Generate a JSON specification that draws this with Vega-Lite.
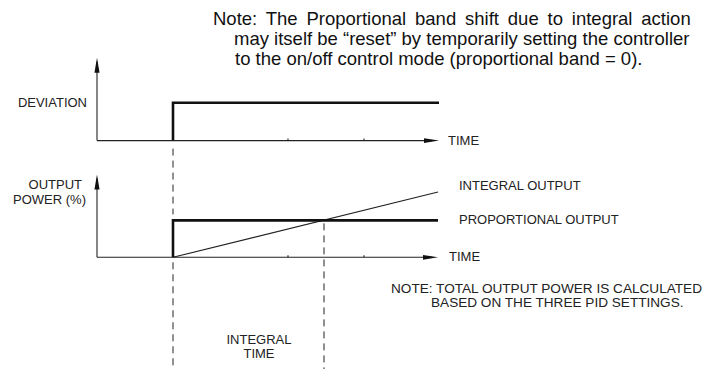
{
  "$schema": "https://vega.github.io/schema/vega-lite/v6.json",
  "width": 709,
  "height": 370,
  "padding": 0,
  "autosize": {"type": "fit", "contains": "padding"},
  "background": "white",
  "config": {"view": {"stroke": null}, "font": "Liberation Sans"},
  "data": {"values": [
    {"kind": "thin", "x": 97, "y": 62, "x2": 97, "y2": 141},
    {"kind": "thin", "x": 97, "y": 141, "x2": 432, "y2": 141},
    {"kind": "thin", "x": 97, "y": 179, "x2": 97, "y2": 258},
    {"kind": "thin", "x": 97, "y": 258, "x2": 432, "y2": 258},
    {"kind": "thin", "x": 173, "y": 258, "x2": 438, "y2": 192.5},
    {"kind": "thin", "x": 288, "y": 141, "x2": 288, "y2": 139},
    {"kind": "thin", "x": 364, "y": 141, "x2": 364, "y2": 139},
    {"kind": "thin", "x": 288, "y": 258, "x2": 288, "y2": 256},
    {"kind": "thin", "x": 364, "y": 258, "x2": 364, "y2": 256},
    {"kind": "dash", "x": 173, "y": 149, "x2": 173, "y2": 215},
    {"kind": "dash", "x": 173, "y": 263, "x2": 173, "y2": 370},
    {"kind": "dash", "x": 324, "y": 224, "x2": 324, "y2": 370},
    {"kind": "thick", "series": "deviation", "o": 1, "x": 173, "y": 141},
    {"kind": "thick", "series": "deviation", "o": 2, "x": 173, "y": 103},
    {"kind": "thick", "series": "deviation", "o": 3, "x": 439, "y": 103},
    {"kind": "thick", "series": "proportional", "o": 1, "x": 173, "y": 258},
    {"kind": "thick", "series": "proportional", "o": 2, "x": 173, "y": 221},
    {"kind": "thick", "series": "proportional", "o": 3, "x": 438, "y": 221},
    {"kind": "arrowup", "x": 97, "y": 58},
    {"kind": "arrowup", "x": 97, "y": 175},
    {"kind": "arrowright", "x": 439, "y": 141},
    {"kind": "arrowright", "x": 438, "y": 258},
    {"kind": "note", "x": 213, "y": 25, "text": "Note:\u2009 The\u2009 Proportional\u2009 band\u2009 shift\u2009 due\u2009 to\u2009 integral\u2009 action"},
    {"kind": "note", "x": 234, "y": 45, "text": "may itself be “reset” by temporarily setting the controller"},
    {"kind": "note", "x": 235, "y": 65, "text": "to the on/off control mode (proportional band = 0)."},
    {"kind": "left", "x": 448, "y": 141, "text": "TIME"},
    {"kind": "left", "x": 449, "y": 258, "text": "TIME"},
    {"kind": "left", "x": 459, "y": 187, "text": "INTEGRAL OUTPUT"},
    {"kind": "left", "x": 459, "y": 221, "text": "PROPORTIONAL OUTPUT"},
    {"kind": "small", "x": 391, "y": 289.5, "text": "NOTE: TOTAL OUTPUT POWER IS CALCULATED"},
    {"kind": "small", "x": 431, "y": 303.5, "text": "BASED ON THE THREE PID SETTINGS."},
    {"kind": "right", "x": 87, "y": 103, "text": "DEVIATION"},
    {"kind": "right", "x": 82, "y": 185, "text": "OUTPUT"},
    {"kind": "right", "x": 86, "y": 201, "text": "POWER (%)"},
    {"kind": "center", "x": 259, "y": 341, "text": "INTEGRAL"},
    {"kind": "center", "x": 259, "y": 355, "text": "TIME"}
  ]},
  "encoding": {
    "x": {"field": "x", "type": "quantitative", "scale": {"domain": [0, 709]}, "axis": null},
    "y": {"field": "y", "type": "quantitative", "scale": {"domain": [370, 0]}, "axis": null}
  },
  "layer": [
    {
      "transform": [{"filter": "datum.kind === 'dash'"}],
      "mark": {"type": "rule", "color": "#222", "strokeWidth": 1, "strokeDash": [7, 5]},
      "encoding": {"x2": {"field": "x2"}, "y2": {"field": "y2"}}
    },
    {
      "transform": [{"filter": "datum.kind === 'thin'"}],
      "mark": {"type": "rule", "color": "#222", "strokeWidth": 1.1},
      "encoding": {"x2": {"field": "x2"}, "y2": {"field": "y2"}}
    },
    {
      "transform": [{"filter": "datum.kind === 'thick'"}],
      "mark": {"type": "line", "color": "#111", "strokeWidth": 2.6, "strokeJoin": "miter", "strokeCap": "butt"},
      "encoding": {"detail": {"field": "series"}, "order": {"field": "o", "type": "quantitative"}}
    },
    {
      "transform": [{"filter": "datum.kind === 'arrowup'"}],
      "mark": {"type": "point", "filled": true, "color": "#111", "opacity": 1, "size": 900, "shape": "M0,0L0.17,1L-0.17,1Z"}
    },
    {
      "transform": [{"filter": "datum.kind === 'arrowright'"}],
      "mark": {"type": "point", "filled": true, "color": "#111", "opacity": 1, "size": 900, "shape": "M0,0L-1,-0.16L-1,0.16Z"}
    },
    {
      "transform": [{"filter": "datum.kind === 'note'"}],
      "mark": {"type": "text", "align": "left", "baseline": "alphabetic", "fontSize": 18.5, "color": "#111"},
      "encoding": {"text": {"field": "text"}}
    },
    {
      "transform": [{"filter": "datum.kind === 'left'"}],
      "mark": {"type": "text", "align": "left", "baseline": "middle", "fontSize": 13, "color": "#222"},
      "encoding": {"text": {"field": "text"}}
    },
    {
      "transform": [{"filter": "datum.kind === 'small'"}],
      "mark": {"type": "text", "align": "left", "baseline": "middle", "fontSize": 13.6, "color": "#222"},
      "encoding": {"text": {"field": "text"}}
    },
    {
      "transform": [{"filter": "datum.kind === 'right'"}],
      "mark": {"type": "text", "align": "right", "baseline": "middle", "fontSize": 13, "color": "#222"},
      "encoding": {"text": {"field": "text"}}
    },
    {
      "transform": [{"filter": "datum.kind === 'center'"}],
      "mark": {"type": "text", "align": "center", "baseline": "middle", "fontSize": 13, "color": "#222"},
      "encoding": {"text": {"field": "text"}}
    }
  ]
}
